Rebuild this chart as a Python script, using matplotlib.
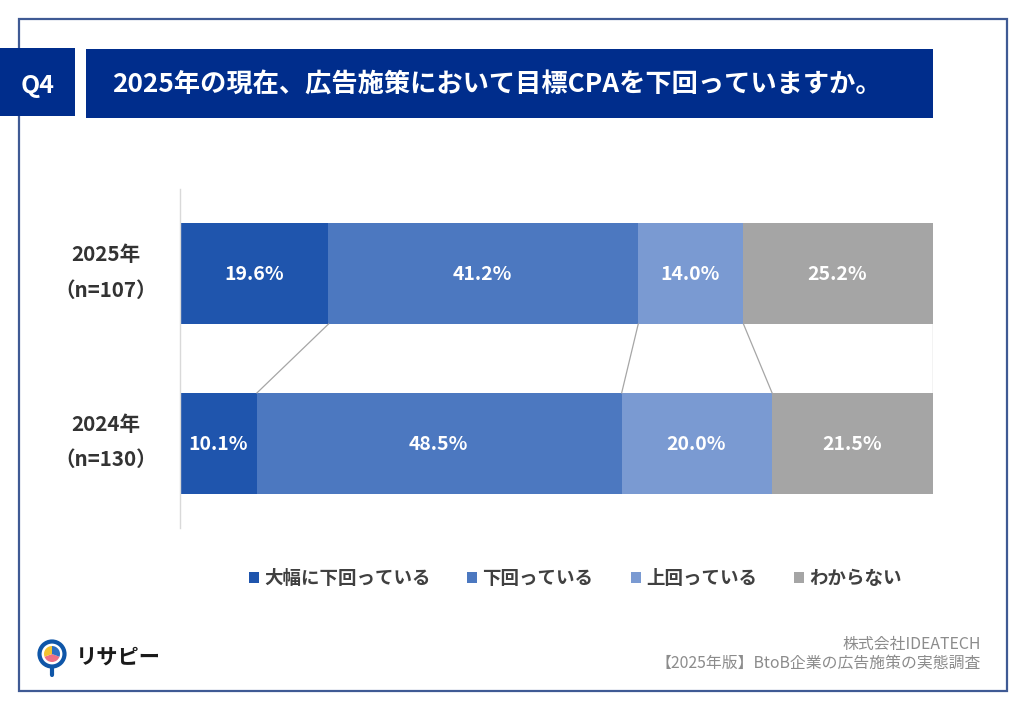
import matplotlib
matplotlib.use("Agg")
import matplotlib.pyplot as plt
from matplotlib.patches import Rectangle, Circle, Wedge
import numpy as np

plt.rcParams['font.family'] = ['Noto Sans CJK JP', 'DejaVu Sans']

# Datos
etiquetas = ["2025年\n（n=107）", "2024年\n（n=130）"]
categorias = ["大幅に下回っている", "下回っている", "上回っている", "わからない"]
v2025 = [19.6, 41.2, 14.0, 25.2]
v2024 = [10.1, 48.5, 20.0, 21.5]
colores = ["#1f55ad", "#4c78c0", "#7a9ad2", "#a5a5a5"]
titulo = "2025年の現在、広告施策において目標CPAを下回っていますか。"
nota1 = "株式会社IDEATECH"
nota2 = "【2025年版】BtoB企業の広告施策の実態調査"
azul = "#002d8c"
W, H = 1024, 709

fig = plt.figure(figsize=(W / 100, H / 100), dpi=100, facecolor="white")

# Capa de fondo en pixeles para marco y encabezado
bg = fig.add_axes([0, 0, 1, 1])
bg.set_xlim(0, W)
bg.set_ylim(H, 0)
bg.axis("off")
bg.add_patch(Rectangle((19, 19), 988, 672, fill=False, ec="#3f5a94", lw=1.6))
bg.add_patch(Rectangle((0, 48), 75, 68, fc=azul, ec="none"))
bg.add_patch(Rectangle((86, 49), 847, 69, fc=azul, ec="none"))
bg.text(38, 85.5, "Q4", color="white", fontsize=18, fontweight="bold", ha="center", va="center")
bg.text(112, 85.5, titulo, color="white", fontsize=18.9, fontweight="bold", ha="left", va="center")

# Grafico de barras apiladas
ax = fig.add_axes([181 / W, 1 - 528 / H, (933 - 181) / W, (528 - 189) / H])
ax.patch.set_alpha(0)
filas = [v2025, v2024]
for i, fila in enumerate(filas):
    izq = 0
    for j, v in enumerate(fila):
        ax.barh(i, v, left=izq, height=0.594, color=colores[j], lw=0)
        ax.annotate("{:.1f}%".format(v), (izq + v / 2, i), xytext=(-0.7, -0.7), textcoords="offset points",
                    color="white", fontsize=14, fontweight="bold", ha="center", va="center")
        izq += v
    # Etiqueta de la fila, a la izquierda del eje
    ax.annotate(etiquetas[i], (0, i), xytext=(-54, 1), textcoords="offset points", annotation_clip=False,
                fontsize=14.8, fontweight="bold", color="#333333", linespacing=1.85, ha="center", va="center")

# Lineas de serie entre las dos barras
acum1 = np.cumsum(v2025)
acum2 = np.cumsum(v2024)
for a, b in zip(acum1, acum2):
    ax.plot([min(a, 100), min(b, 100)], [0.297, 1 - 0.297], color="#a6a6a6", lw=0.9)

# set_position reinicia el eje, por eso va antes de los ticks
for s in ["top", "right", "bottom"]:
    ax.spines[s].set_visible(False)
ax.spines["left"].set_color("#d9d9d9")
ax.spines["left"].set_linewidth(1)
ax.spines["left"].set_position(("outward", 0.6))

ax.set_xlim(0, 100)
ax.set_ylim(1.5, -0.5)
ax.set_yticks([])
ax.set_xticks([])

# Leyenda
pos_cuadro = [249, 467, 631, 794]
for c, col, x in zip(categorias, colores, pos_cuadro):
    bg.add_patch(Rectangle((x, 572), 10, 11, fc=col, ec="none"))
    bg.text(x + 15, 579, c, fontsize=13.3, fontweight="bold", color="#404040", ha="left", va="center")

# Notas
bg.text(981, 644, nota1, fontsize=11.4, color="#8c8c8c", ha="right", va="center")
bg.text(981, 663, nota2, fontsize=11.4, color="#8c8c8c", ha="right", va="center")

# Logo
bg.plot([52, 52], [665, 675], color="#0f56a8", lw=3, solid_capstyle="round", zorder=2)
bg.add_patch(Circle((52, 654), 12.5, fc="white", ec="#0f56a8", lw=3, zorder=3))
bg.add_patch(Wedge((52, 654), 8, 20, 160, fc="#ef6f85", ec="none", zorder=4))
bg.add_patch(Wedge((52, 654), 8, 160, 270, fc="#f2c230", ec="none", zorder=4))
bg.add_patch(Wedge((52, 654), 8, 270, 380, fc="#2d6fc0", ec="none", zorder=4))
bg.text(76, 657, "リサピー", fontsize=15.3, fontweight="bold", color="#1a1a1a", ha="left", va="center")

fig.savefig("out.png", dpi=100)
